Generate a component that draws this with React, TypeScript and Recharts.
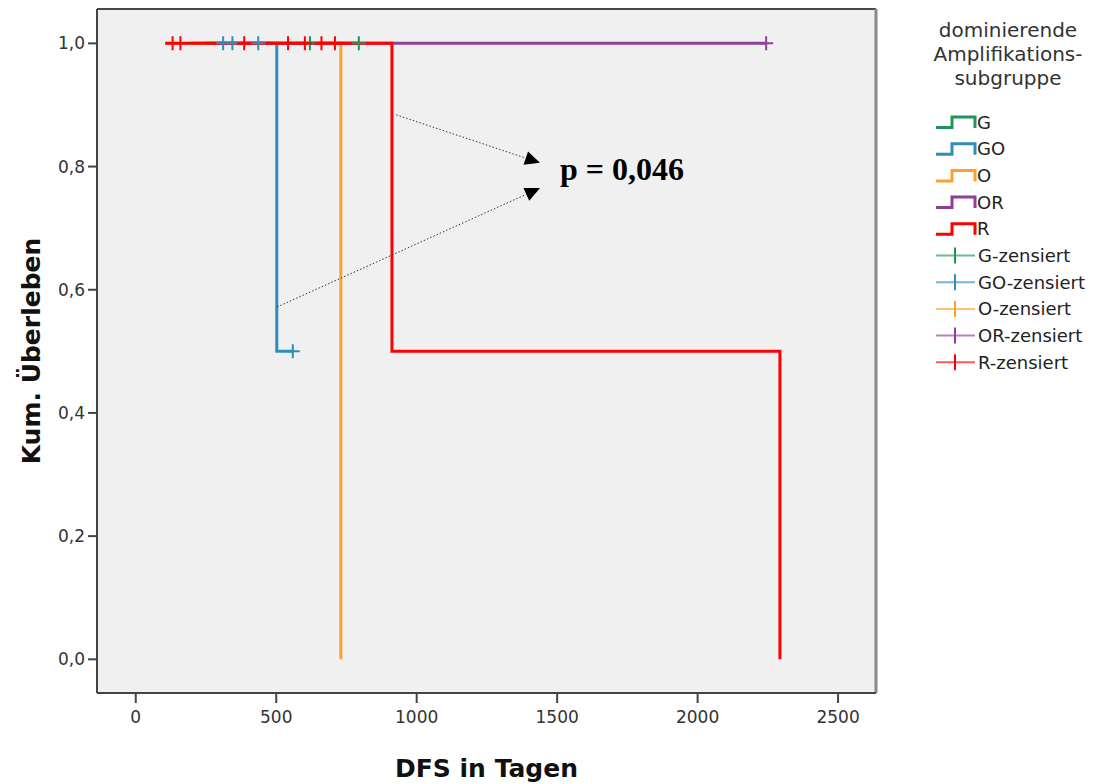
import React from 'react';
import {
  CartesianGrid,
  ComposedChart,
  Line,
  ReferenceDot,
  ReferenceLine,
  Scatter,
  XAxis,
  YAxis,
} from 'recharts';

// Kaplan-Meier step points per subgroup (t = days, s = cumulative survival)
const gSteps = [{ t: 200, s: 1 }, { t: 794, s: 1 }];
const goSteps = [{ t: 311, s: 1 }, { t: 502, s: 0.5 }, { t: 559, s: 0.5 }];
const oSteps = [{ t: 180, s: 1 }, { t: 730, s: 0 }];
const orSteps = [{ t: 250, s: 1 }, { t: 2244, s: 1 }];
const rSteps = [{ t: 105, s: 1 }, { t: 912, s: 0.5 }, { t: 2293, s: 0 }];

// censored observations
const gCens = [{ t: 620, s: 1 }, { t: 794, s: 1 }];
const goCens = [{ t: 311, s: 1 }, { t: 344, s: 1 }, { t: 436, s: 1 }, { t: 559, s: 0.5 }];
const oCens: { t: number; s: number }[] = [];
const orCens = [{ t: 2244, s: 1 }];
const rCens = [
  { t: 131, s: 1 }, { t: 159, s: 1 }, { t: 386, s: 1 }, { t: 542, s: 1 },
  { t: 602, s: 1 }, { t: 661, s: 1 }, { t: 709, s: 1 },
];

const groups = ['G', 'GO', 'O', 'OR', 'R'];
const colors = ['#23935A', '#2F8DBA', '#FBA22C', '#8E3F97', '#FF0000'];
const legendTitle = ['dominierende', 'Amplifikations-', 'subgruppe'];

const dayTicks = [0, 500, 1000, 1500, 2000, 2500];
const survTicks = [0, 0.2, 0.4, 0.6, 0.8, 1.0];
const xDomain = [-138, 2635];
const yDomain = [-0.0547, 1.0558];

// annotation: arrows pointing to the log-rank p value
const arrowUpper = [{ x: 927, y: 0.884 }, { x: 1439, y: 0.806 }];
const arrowLower = [{ x: 503, y: 0.572 }, { x: 1439, y: 0.765 }];
const pLabel = { x: 1510, y: 0.778, text: 'p = 0,046' };

const stepsList = [gSteps, goSteps, oSteps, orSteps, rSteps];
const censList = [gCens, goCens, oCens, orCens, rCens];

const FONT = '"DejaVu Sans", Arial, sans-serif';

function CensorMark(color: string) {
  return (props: any) => {
    const { cx, cy } = props;
    if (cx == null || cy == null) return <g />;
    return (
      <path
        d={`M${cx - 7},${cy}H${cx + 7}M${cx},${cy - 7}V${cy + 7}`}
        stroke={color}
        strokeWidth={2}
        fill="none"
      />
    );
  };
}

function Arrow(props: any) {
  const { x1, y1, x2, y2 } = props;
  const len = Math.hypot(x2 - x1, y2 - y1);
  const ux = (x2 - x1) / len;
  const uy = (y2 - y1) / len;
  const bx = x2 - ux * 15;
  const by = y2 - uy * 15;
  const px = -uy * 7;
  const py = ux * 7;
  return (
    <g>
      <line x1={x1} y1={y1} x2={bx} y2={by} stroke="#333" strokeWidth={1} strokeDasharray="1.5 2" />
      <polygon points={`${x2},${y2} ${bx + px},${by + py} ${bx - px},${by - py}`} fill="#000" />
    </g>
  );
}

function YTitle(props: any) {
  const { viewBox } = props;
  const cx = viewBox.x + 31;
  const cy = viewBox.y + viewBox.height / 2;
  return (
    <text
      x={cx}
      y={cy}
      transform={`rotate(-90 ${cx} ${cy})`}
      textAnchor="middle"
      dominantBaseline="central"
      fontFamily={FONT}
      fontWeight="bold"
      fontSize={25}
      fill="#111"
    >
      Kum. Überleben
    </text>
  );
}

function LegendBox() {
  const rowY = (i: number) => 122 + i * 26.7;
  return (
    <svg width={188} height={400} style={{ position: 'absolute', left: 915, top: 0 }}>
      {legendTitle.map((line, i) => (
        <text key={line} x={93} y={37 + i * 24} textAnchor="middle" fontFamily={FONT} fontSize={20} fill="#333">
          {line}
        </text>
      ))}
      {groups.map((g, i) => {
        const y = rowY(i);
        return (
          <g key={g}>
            <path
              d={`M21,${y + 5.5}H37V${y - 5}H60V${y + 6}`}
              stroke={colors[i]}
              strokeWidth={3}
              fill="none"
            />
            <text x={62} y={y + 6.5} fontFamily={FONT} fontSize={18} fill="#222">
              {g}
            </text>
          </g>
        );
      })}
      {groups.map((g, i) => {
        const y = rowY(i + 5);
        return (
          <g key={g + '-z'}>
            <line x1={21} x2={60} y1={y} y2={y} stroke={colors[i]} strokeWidth={2} strokeOpacity={0.65} />
            <line x1={40} x2={40} y1={y - 8} y2={y + 8} stroke={colors[i]} strokeWidth={2} />
            <text x={63} y={y + 6.5} fontFamily={FONT} fontSize={18} fill="#222">
              {g}-zensiert
            </text>
          </g>
        );
      })}
    </svg>
  );
}

export default function App() {
  return (
    <div style={{ position: 'absolute', left: 0, top: 0, width: 1103, height: 784 }}>
      <ComposedChart width={1103} height={784} margin={{ top: 9, right: 227, left: 0, bottom: 0 }}>
        <CartesianGrid fill="#F0F0F0" horizontal={false} vertical={false} />
        <XAxis
          dataKey="t"
          type="number"
          domain={xDomain}
          ticks={dayTicks}
          allowDataOverflow
          height={91}
          tickSize={10}
          tickMargin={8}
          stroke="#444"
          axisLine={{ stroke: '#444', strokeWidth: 2 }}
          tickLine={{ stroke: '#444', strokeWidth: 2 }}
          tick={{ fontFamily: FONT, fontSize: 17, fill: '#333' }}
          label={{
            value: 'DFS in Tagen',
            position: 'insideBottom',
            offset: 7,
            fontFamily: FONT,
            fontWeight: 'bold',
            fontSize: 25,
            fill: '#111',
          }}
        />
        <YAxis
          type="number"
          domain={yDomain}
          ticks={survTicks}
          allowDataOverflow
          width={97}
          tickSize={9}
          tickMargin={3}
          axisLine={{ stroke: '#444', strokeWidth: 2 }}
          tickLine={{ stroke: '#444', strokeWidth: 2 }}
          tick={{ fontFamily: FONT, fontSize: 17, fill: '#333' }}
          tickFormatter={(v: number) => v.toFixed(1).replace('.', ',')}
          label={<YTitle />}
        />
        {/* plot frame: top and right edges */}
        <ReferenceLine y={yDomain[1]} stroke="#4a4a4a" strokeWidth={2} />
        <ReferenceLine x={xDomain[1]} stroke="#8a8a8a" strokeWidth={3} />
        {stepsList.map((steps, i) => (
          <Line
            key={groups[i]}
            data={steps}
            dataKey="s"
            type="stepAfter"
            stroke={colors[i]}
            strokeWidth={3}
            dot={false}
            activeDot={false}
            isAnimationActive={false}
          />
        ))}
        {censList.map((cens, i) => (
          <Scatter
            key={groups[i] + '-z'}
            data={cens}
            dataKey="s"
            shape={CensorMark(colors[i])}
            isAnimationActive={false}
          />
        ))}
        <ReferenceLine segment={arrowUpper} shape={Arrow} />
        <ReferenceLine segment={arrowLower} shape={Arrow} />
        <ReferenceDot
          x={pLabel.x}
          y={pLabel.y}
          shape={(p: any) => (
            <text
              x={p.cx}
              y={p.cy}
              fontFamily='"Liberation Serif", "Times New Roman", serif'
              fontWeight="bold"
              fontSize={32}
              fill="#000"
            >
              {pLabel.text}
            </text>
          )}
        />
      </ComposedChart>
      <LegendBox />
    </div>
  );
}
